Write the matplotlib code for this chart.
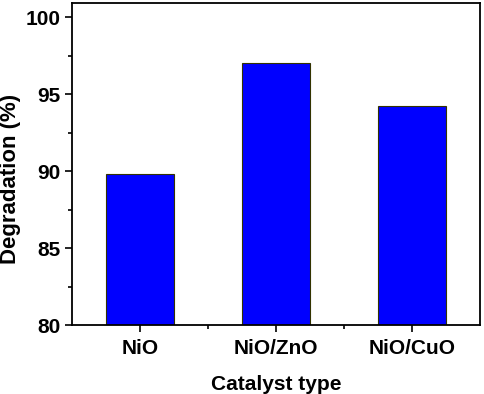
import matplotlib.pyplot as plt
from matplotlib.ticker import MultipleLocator

catalysts = ["NiO", "NiO/ZnO", "NiO/CuO"]
degradation = [89.8, 97.0, 94.2]

plt.rcParams["font.family"] = ["Liberation Sans", "DejaVu Sans"]
plt.rcParams["font.weight"] = "bold"

fig, ax = plt.subplots(figsize=(4.84, 3.94), dpi=100)
fig.subplots_adjust(left=0.149, right=0.992, top=0.992, bottom=0.175)

positions = range(1, len(catalysts) + 1)
ax.bar(
    positions,
    degradation,
    width=0.5,
    color="#0000ff",
    edgecolor="#333300",
    linewidth=0.8,
)

ax.set_xlim(0.5, 3.5)
ax.set_ylim(80, 100.9)
ax.set_xticks(list(positions))
ax.set_xticklabels(catalysts)
ax.set_xticks([1.5, 2.5], minor=True)
ax.yaxis.set_major_locator(MultipleLocator(5))
ax.yaxis.set_minor_locator(MultipleLocator(2.5))

ax.tick_params(which="major", direction="out", length=5, width=1.2, labelsize=15)
ax.tick_params(which="minor", direction="out", length=3, width=1.2)
ax.tick_params(axis="x", which="major", pad=5)
for spine in ax.spines.values():
    spine.set_linewidth(1.3)

ax.set_xlabel("Catalyst type", fontsize=15, fontweight="bold", labelpad=12)
ax.set_ylabel("Degradation (%)", fontsize=16, fontweight="bold")
ax.yaxis.set_label_coords(-0.125, 0.455)

fig.savefig("out.png", dpi=100)
